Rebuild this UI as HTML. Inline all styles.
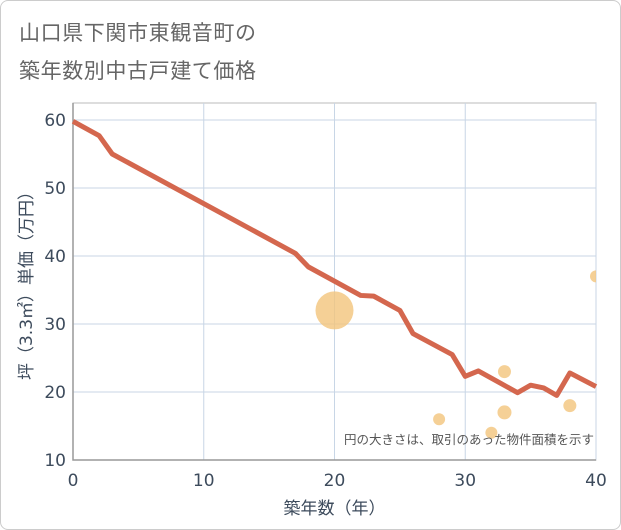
<!DOCTYPE html>
<html><head><meta charset="utf-8"><style>
body{margin:0;background:#fff;}
#card{position:relative;width:619px;height:528px;border:1px solid #ccc;border-radius:8px;background:#fff;overflow:hidden;}
.title{position:absolute;left:18px;font:21px "DejaVu Sans","Noto Sans CJK JP",sans-serif;color:#666;letter-spacing:0.6px;}
svg text{font-family:"DejaVu Sans","Noto Sans CJK JP",sans-serif;}
</style></head><body>
<div id="card">
<div class="title" style="top:16px">山口県下関市東観音町の</div>
<div class="title" style="top:54px">築年数別中古戸建て価格</div>
<svg id="chart" width="621" height="530" style="position:absolute;left:-1px;top:-1px"></svg>
</div>
<script>
const lineYears=[0,2,3,17,18,22,23,25,26,29,30,31,34,35,36,37,38,40];
const linePrices=[59.8,57.7,55,40.4,38.4,34.2,34.1,32,28.6,25.5,22.3,23.1,19.9,21,20.6,19.5,22.8,20.8];
const bubbleYears=[20,28,32,33,33,38,40];
const bubblePrices=[32,16,14,23,17,18,37];
const bubbleSizes=[19,6,6,6.5,7,6.5,6];
const xTicks=[0,10,20,30,40];
const yTicks=[10,20,30,40,50,60];
const L=73,R=596,T=103,B=460;
const xs=v=>L+(v/40)*(R-L);
const ys=v=>B-(v-10)*6.8;
const svg=document.getElementById('chart');
const NS='http://www.w3.org/2000/svg';
function mk(t,a){const e=document.createElementNS(NS,t);for(const k in a)e.setAttribute(k,a[k]);svg.appendChild(e);return e;}
let bg=mk('rect',{x:L,y:T,width:R-L,height:B-T,fill:'#fff',stroke:'#bbb','stroke-width':1});


xTicks.forEach(v=>{
 let g=mk('line',{x1:xs(v),x2:xs(v),y1:T,y2:B,stroke:'#c8d6e6','stroke-width':1});
 
 
 let t=mk('text',{x:xs(v),y:486,'text-anchor':'middle','font-size':17,fill:'#3d4b5c'});t.textContent=v;
 
 
});
yTicks.forEach(v=>{
 let g=mk('line',{x1:L,x2:R,y1:ys(v),y2:ys(v),stroke:'#c8d6e6','stroke-width':1});
 
 
 let t=mk('text',{x:L-7,y:ys(v)+6,'text-anchor':'end','font-size':17,fill:'#3d4b5c'});t.textContent=v;
 
 
});
let ax=mk('polyline',{points:L+','+T+' '+L+','+B+' '+R+','+B,fill:'none',stroke:'#999','stroke-width':1.5});


let clip=mk('clipPath',{id:'pc'});
let cr=document.createElementNS(NS,'rect');cr.setAttribute('x',L);cr.setAttribute('y',T);cr.setAttribute('width',R-L);cr.setAttribute('height',B-T);clip.appendChild(cr);
bubbleYears.forEach((v,i)=>{
 let c=mk('circle',{cx:xs(v),cy:ys(bubblePrices[i]),r:bubbleSizes[i],fill:'#f2c47c','fill-opacity':0.8,'clip-path':'url(#pc)'});
 
 
});
let p=mk('polyline',{points:lineYears.map((v,i)=>xs(v)+','+ys(linePrices[i])).join(' '),fill:'none',stroke:'#d4674e','stroke-width':5,'stroke-linejoin':'round'});


let n=mk('text',{x:594,y:444,'text-anchor':'end','font-size':12.5,fill:'#555'});n.textContent='円の大きさは、取引のあった物件面積を示す';


let xt=mk('text',{x:(L+R)/2,y:514,'text-anchor':'middle','font-size':17,fill:'#3d4b5c'});xt.textContent='築年数（年）';


let yt=mk('text',{x:0,y:0,'text-anchor':'middle','font-size':17,fill:'#3d4b5c',transform:'translate(32,'+((T+B)/2)+') rotate(-90)'});yt.textContent='坪（3.3㎡）単価（万円）';


</script>
</body></html>
